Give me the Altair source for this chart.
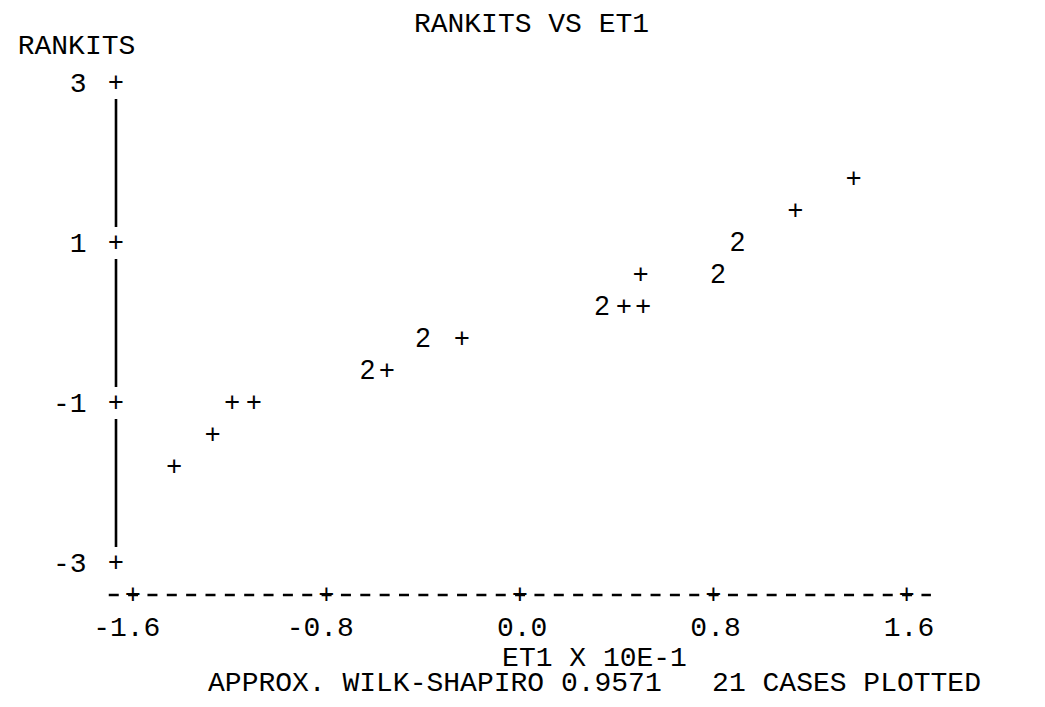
import altair as alt
import pandas as pd

# ---- data (printer-plot characters) ----
point_chars = ["+", "+", "+", "+", "2", "+", "2", "+", "2", "+", "+", "+", "2", "2", "+", "+"]
point_et1 = [-1.43, -1.27, -1.19, -1.10, -0.63, -0.55, -0.40, -0.24, 0.34, 0.43, 0.51,
             0.50, 0.82, 0.90, 1.14, 1.38]
point_rankits = [-1.8, -1.4, -1.0, -1.0, -0.6, -0.6, -0.2, -0.2, 0.2, 0.2, 0.2,
                 0.6, 0.6, 1.0, 1.4, 1.8]

x_ticks = [-1.6, -0.8, 0.0, 0.8, 1.6]
y_ticks = [-3, -1, 1, 3]

title_text = "RANKITS VS ET1"
y_title = "RANKITS"
x_title = "ET1 X 10E-1"
footer = "APPROX. WILK-SHAPIRO 0.9571\u00a0\u00a0\u00a021 CASES PLOTTED"

X_DOMAIN = [-1.67, 1.75]
Y_DOMAIN = [-3.4, 3.2]

MONO = "Liberation Mono"
SANS = "Liberation Sans"
FS = 28

points = pd.DataFrame({"ch": point_chars, "x": point_et1, "y": point_rankits})
xplus = pd.DataFrame({"ch": ["+"] * len(x_ticks), "x": x_ticks, "y": [Y_DOMAIN[0]] * len(x_ticks)})
yplus = pd.DataFrame({"ch": ["+"] * len(y_ticks), "x": [X_DOMAIN[0]] * len(y_ticks), "y": y_ticks})
segs = pd.DataFrame({
    "x": [X_DOMAIN[0]] * (len(y_ticks) - 1),
    "y": [a + 0.2 for a in y_ticks[:-1]],
    "y2": [b - 0.2 for b in y_ticks[1:]],
})
dash = pd.DataFrame({"x": [x_ticks[0] - 0.1], "x2": [x_ticks[-1] + 0.1], "y": [Y_DOMAIN[0]]})

xs = alt.Scale(domain=X_DOMAIN, nice=False, zero=False)
ys = alt.Scale(domain=Y_DOMAIN, nice=False, zero=False)

x_axis = alt.Axis(
    values=x_ticks,
    labelExpr="(datum.value < 0 ? '-' : '') + format(abs(datum.value), '.1f')",
    domain=False, ticks=False, tickSize=0, grid=False,
    labelFont=MONO, labelFontSize=FS, labelColor="black",
    labelPadding=32, labelBaseline="middle", labelAlign="right", labelOffset=27,
    labelFlush=False, labelOverlap=False,
    title=[x_title, footer], titleFont=MONO, titleFontSize=FS, titleFontWeight="normal",
    titleColor="black", titleX=478, titleY=70, titleAlign="center",
    titleBaseline="alphabetic", titleLineHeight=25,
)
y_axis = alt.Axis(
    values=y_ticks,
    labelExpr="(datum.value < 0 ? '-' : '') + format(abs(datum.value), 'd')",
    domain=False, ticks=False, tickSize=0, grid=False,
    labelFont=MONO, labelFontSize=FS, labelColor="black",
    labelPadding=30, labelBaseline="middle", labelFlush=False, labelOverlap=False,
    title=y_title, titleFont=MONO, titleFontSize=FS, titleFontWeight="normal",
    titleColor="black", titleAngle=0, titleX=-40, titleY=-22, titleAlign="center",
    titleBaseline="middle",
)

X = lambda: alt.X("x:Q", scale=xs, axis=x_axis)
Y = lambda: alt.Y("y:Q", scale=ys, axis=y_axis)

dash_layer = alt.Chart(dash).mark_rule(color="black", strokeWidth=2.6, strokeDash=[10, 9.35]).encode(
    x=X(), x2="x2:Q", y=Y())
seg_layer = alt.Chart(segs).mark_rule(color="black", strokeWidth=2.6).encode(
    x=X(), y=Y(), y2="y2:Q")
yplus_layer = alt.Chart(yplus).mark_text(font=SANS, fontSize=27, color="black", baseline="middle").encode(
    x=X(), y=Y(), text="ch:N")
xplus_layer = alt.Chart(xplus).mark_text(font=SANS, fontSize=27, color="black", baseline="middle").encode(
    x=X(), y=Y(), text="ch:N")
point_layer = alt.Chart(points).mark_text(font=SANS, fontSize=27, color="black", baseline="middle").encode(
    x=X(), y=Y(), text="ch:N")

chart = alt.layer(dash_layer, seg_layer, yplus_layer, xplus_layer, point_layer).properties(
    width=827, height=528,
    padding={"left": 108, "top": 59, "right": 94, "bottom": 104},
    autosize=alt.AutoSizeParams(type="none"),
    background="white",
    title=alt.TitleParams(title_text, font=MONO, fontSize=FS, fontWeight="normal", color="black",
                          anchor="middle", baseline="alphabetic", offset=-29, dx=2),
).configure_view(stroke=None)

chart.save("out.html", embed_options={"renderer": "svg", "actions": False})
